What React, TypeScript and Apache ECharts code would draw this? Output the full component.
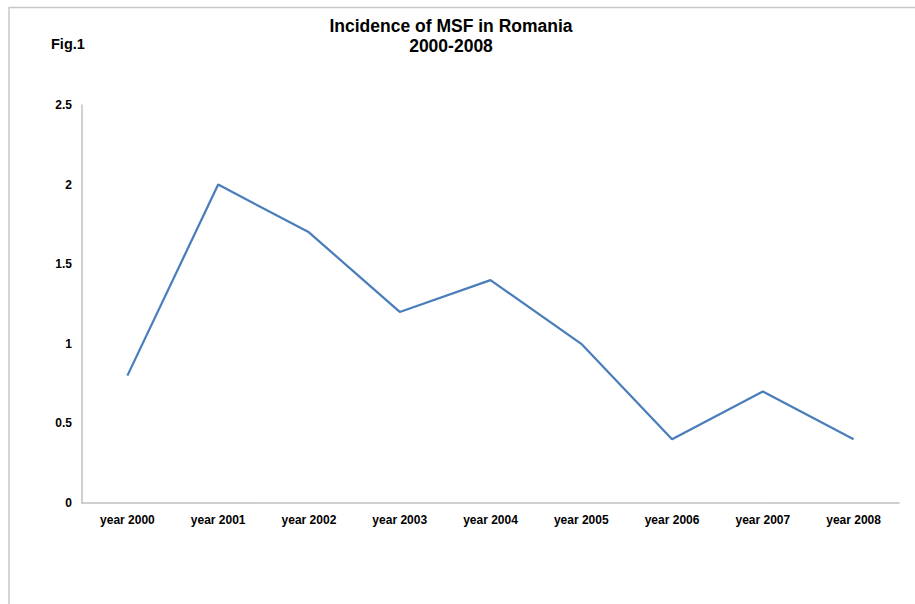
import React, { useEffect, useRef } from "react";
import * as echarts from "echarts";

const categories = ["year 2000", "year 2001", "year 2002", "year 2003", "year 2004", "year 2005", "year 2006", "year 2007", "year 2008"];
const incidence = [0.8, 2.0, 1.7, 1.2, 1.4, 1.0, 0.4, 0.7, 0.4];
const titleLines = ["Incidence of MSF in Romania", "2000-2008"];
const figLabel = "Fig.1";

export default function App() {
  const ref = useRef<HTMLDivElement>(null);
  useEffect(() => {
    if (!ref.current) return;
    const chart = echarts.init(ref.current, null, { renderer: "svg" });
    const font = "Arial, 'Liberation Sans', sans-serif";
    chart.setOption({
      animation: false,
      backgroundColor: "#ffffff",
      graphic: [
        { type: "line", shape: { x1: 9, y1: 7.5, x2: 915, y2: 7.5 }, style: { stroke: "#c8c8c8", lineWidth: 1.5 } },
        { type: "line", shape: { x1: 9, y1: 7, x2: 9, y2: 604 }, style: { stroke: "#c8c8c8", lineWidth: 1.5 } },
        {
          type: "text",
          x: 451,
          y: 26,
          style: { text: titleLines[0], fontFamily: font, fontSize: 17.5, fontWeight: "bold", fill: "#000", align: "center", verticalAlign: "middle" },
        },
        {
          type: "text",
          x: 451,
          y: 46,
          style: { text: titleLines[1], fontFamily: font, fontSize: 17.5, fontWeight: "bold", fill: "#000", align: "center", verticalAlign: "middle" },
        },
        {
          type: "text",
          x: 51,
          y: 44,
          style: { text: figLabel, fontFamily: font, fontSize: 14.5, fontWeight: "bold", fill: "#000", align: "left", verticalAlign: "middle" },
        },
      ],
      grid: { left: 82, right: 16, top: 105, bottom: 101, containLabel: false },
      xAxis: {
        type: "category",
        data: categories,
        boundaryGap: true,
        axisLine: { lineStyle: { color: "#c0c0c0", width: 1.5 } },
        axisTick: { show: false },
        axisLabel: { fontFamily: font, fontSize: 12, fontWeight: "bold", color: "#000", margin: 11, interval: 0 },
      },
      yAxis: {
        type: "value",
        min: 0,
        max: 2.5,
        interval: 0.5,
        axisLine: { show: true, lineStyle: { color: "#c0c0c0", width: 1.5 } },
        axisTick: { show: false },
        splitLine: { show: false },
        axisLabel: { fontFamily: font, fontSize: 12, fontWeight: "bold", color: "#000", margin: 10 },
      },
      series: [
        {
          type: "line",
          data: incidence,
          symbol: "none",
          lineStyle: { color: "#4a7ebb", width: 2.25 },
        },
      ],
    });
    return () => chart.dispose();
  }, []);
  return <div ref={ref} style={{ position: "absolute", left: 0, top: 0, width: 915, height: 604 }} />;
}
